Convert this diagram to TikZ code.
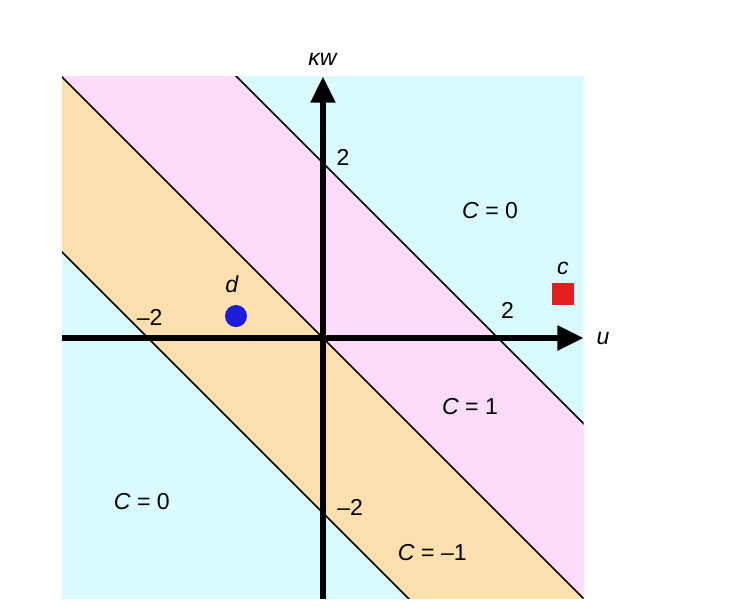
\documentclass[tikz,border=0pt]{standalone}
\usepackage{fontspec}
\setmainfont{Liberation Sans}
\usetikzlibrary{arrows.meta, positioning}
\definecolor{bgcyan}{HTML}{DAFBFD}
\definecolor{bandpink}{HTML}{FBDCFB}
\definecolor{bandorange}{HTML}{FEDFAE}
\definecolor{ptred}{HTML}{E41E1E}
\definecolor{ptblue}{HTML}{1C1CD8}
\begin{document}
\begin{tikzpicture}[
  every node/.style={font=\fontsize{7.5}{9}\selectfont},
  axis/.style={line width=2pt, -{Triangle[length=0.3cm, width=0.27cm]}},
  border/.style={line width=0.5pt}
]
\useasboundingbox (-3.691,-3.154) rectangle (4.857,3.863);

% Regions
\begin{scope}
  \clip (-2.98,-2.98) rectangle (2.98,2.99);
  \fill[bgcyan] (-2.98,-2.98) rectangle (2.98,2.99);
  \fill[bandpink] (-5,5) -- (5,-5) -- (7,-5) -- (-3,5) -- cycle;
  \fill[bandorange] (-5,5) -- (5,-5) -- (3,-5) -- (-7,5) -- cycle;
  \draw[border] (-5,5) -- (5,-5);
  \draw[border] (-3,5) -- (7,-5);
  \draw[border] (-7,5) -- (3,-5);
\end{scope}

% Axes
\coordinate (uL) at (-2.98,0);
\coordinate (uR) at (2.98,0);
\coordinate (wB) at (0,-2.98);
\coordinate (wT) at (0,2.99);
\draw[axis] (uL) -- (uR);
\draw[axis] (wB) -- (wT);
\node (wlab) at (0,3.18) {\textit{κw}};
\node (ulab) at (3.2,0) {\textit{u}};

% Ticks
\node (wtwo) at (0.23,2.06) {2};
\node (utwo) at (2.11,0.32) {2};
\node (umtwo) at (-1.98,0.23) {–2};
\node (wmtwo) at (0.31,-1.94) {–2};

% Points
\fill[ptblue] (-0.994,0.251) circle (0.126);
\node (dlab) at (-1.04,0.61) {\textit{d}};
\fill[ptred] (2.617,0.377) rectangle (2.869,0.629);
\node (clab) at (2.743,0.8) {\textit{c}};

% Region labels
\node (czeroA) at (1.91,1.46) {\textit{C} = 0};
\node (cone) at (1.68,-0.78) {\textit{C} = 1};
\node (czeroB) at (-2.07,-1.87) {\textit{C} = 0};
\node (cmone) at (1.25,-2.45) {\textit{C} = –1};
\end{tikzpicture}
\end{document}
